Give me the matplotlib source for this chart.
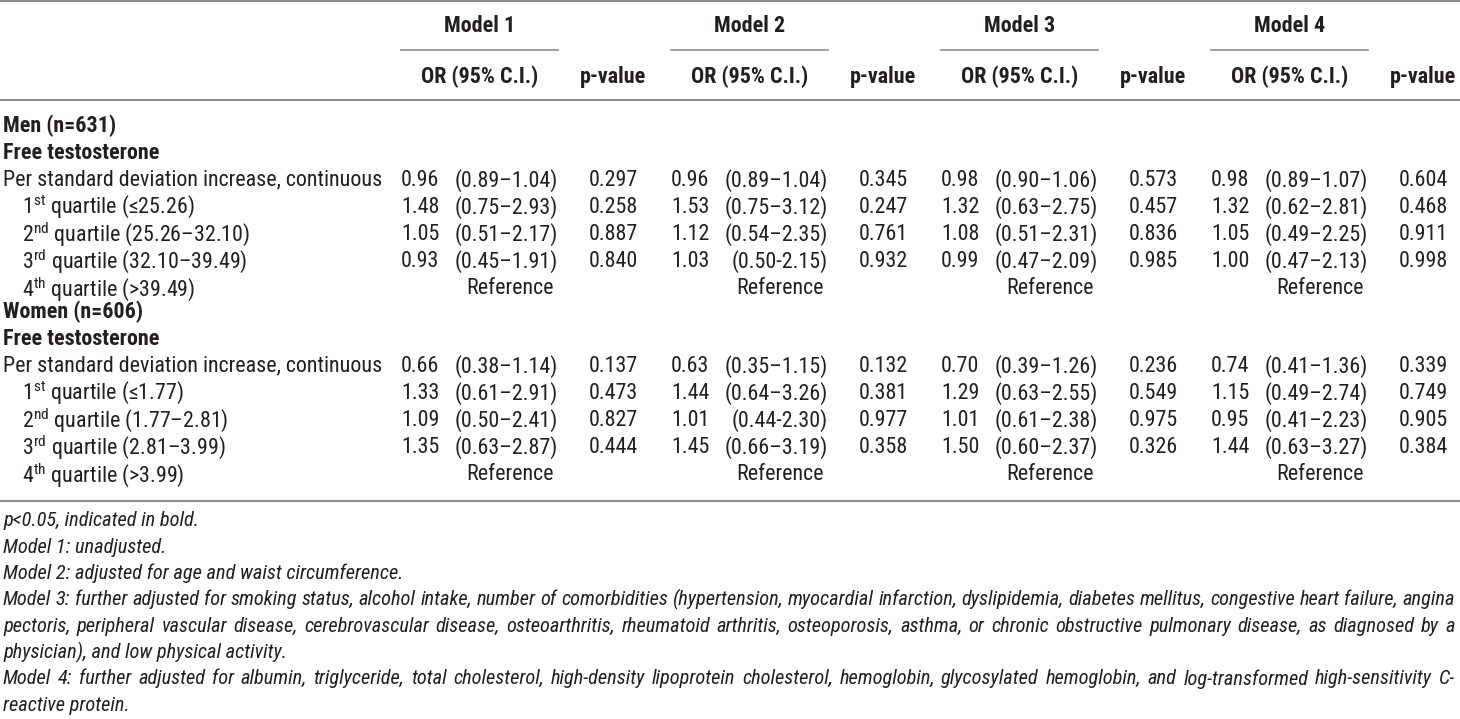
import matplotlib
matplotlib.use("Agg")
from matplotlib import pyplot as plt

FONT = ['Liberation Sans Narrow', 'Noto Sans Condensed', 'Roboto Condensed',
        'Open Sans Condensed', 'Liberation Sans', 'DejaVu Sans']
plt.rcParams['font.family'] = FONT
plt.rcParams['mathtext.fontset'] = 'custom'
plt.rcParams['mathtext.rm'] = 'Roboto Condensed'

models = ["Model 1", "Model 2", "Model 3", "Model 4"]

labels_men = ["Per standard deviation increase, continuous",
              "1$^{\\mathregular{st}}$ quartile (≤25.26)",
              "2$^{\\mathregular{nd}}$ quartile (25.26–32.10)",
              "3$^{\\mathregular{rd}}$ quartile (32.10–39.49)",
              "4$^{\\mathregular{th}}$ quartile (>39.49)"]
labels_women = ["Per standard deviation increase, continuous",
                "1$^{\\mathregular{st}}$ quartile (≤1.77)",
                "2$^{\\mathregular{nd}}$ quartile (1.77–2.81)",
                "3$^{\\mathregular{rd}}$ quartile (2.81–3.99)",
                "4$^{\\mathregular{th}}$ quartile (>3.99)"]

# men, one list per model
or_men = [["0.96", "1.48", "1.05", "0.93"],
          ["0.96", "1.53", "1.12", "1.03"],
          ["0.98", "1.32", "1.08", "0.99"],
          ["0.98", "1.32", "1.05", "1.00"]]
ci_men = [["(0.89–1.04)", "(0.75–2.93)", "(0.51–2.17)", "(0.45–1.91)"],
          ["(0.89–1.04)", "(0.75–3.12)", "(0.54–2.35)", "(0.50-2.15)"],
          ["(0.90–1.06)", "(0.63–2.75)", "(0.51–2.31)", "(0.47–2.09)"],
          ["(0.89–1.07)", "(0.62–2.81)", "(0.49–2.25)", "(0.47–2.13)"]]
p_men = [["0.297", "0.258", "0.887", "0.840"],
         ["0.345", "0.247", "0.761", "0.932"],
         ["0.573", "0.457", "0.836", "0.985"],
         ["0.604", "0.468", "0.911", "0.998"]]

# women
or_women = [["0.66", "1.33", "1.09", "1.35"],
            ["0.63", "1.44", "1.01", "1.45"],
            ["0.70", "1.29", "1.01", "1.50"],
            ["0.74", "1.15", "0.95", "1.44"]]
ci_women = [["(0.38–1.14)", "(0.61–2.91)", "(0.50–2.41)", "(0.63–2.87)"],
            ["(0.35–1.15)", "(0.64–3.26)", "(0.44-2.30)", "(0.66–3.19)"],
            ["(0.39–1.26)", "(0.63–2.55)", "(0.61–2.38)", "(0.60–2.37)"],
            ["(0.41–1.36)", "(0.49–2.74)", "(0.41–2.23)", "(0.63–3.27)"]]
p_women = [["0.137", "0.473", "0.827", "0.444"],
           ["0.132", "0.381", "0.977", "0.358"],
           ["0.236", "0.549", "0.975", "0.326"],
           ["0.339", "0.749", "0.905", "0.384"]]

footnotes = [
    "p<0.05, indicated in bold.",
    "Model 1: unadjusted.",
    "Model 2: adjusted for age and waist circumference.",
    "Model 3: further adjusted for smoking status, alcohol intake, number of comorbidities (hypertension, myocardial infarction, dyslipidemia, diabetes mellitus, congestive heart failure, angina",
    "pectoris, peripheral vascular disease, cerebrovascular disease, osteoarthritis, rheumatoid arthritis, osteoporosis, asthma, or chronic obstructive pulmonary disease, as diagnosed by a",
    "physician), and low physical activity.",
    "Model 4: further adjusted for albumin, triglyceride, total cholesterol, high-density lipoprotein cholesterol, hemoglobin, glycosylated hemoglobin, and log-transformed high-sensitivity C-",
    "reactive protein.",
]
justified = [3, 4, 6]  # wrapped lines that run to the right margin

TXT = '#231f20'
RULE = '#8c8c8c'

fig = plt.figure(figsize=(14.6, 7.19), dpi=100)
ax = fig.add_axes([0, 0, 1, 1])
ax.set_xlim(0, 1460)
ax.set_ylim(719, 0)
ax.axis('off')

# fit the font sizes to the widths seen in the reference
fig.canvas.draw()
r = fig.canvas.get_renderer()
probe = ax.text(0, 0, labels_men[0], fontsize=10)
fs = 10 * 378 / probe.get_window_extent(r).width
probe.remove()
probe = ax.text(0, 0, footnotes[3], fontsize=10, fontstyle='italic')
fs_note = 10 * 1450 / probe.get_window_extent(r).width
probe.remove()

col_step = 270
or_x = 401
ci_x = 558
p_x = 613
ref_x = 510

# header
for k, m in enumerate(models):
    x0 = or_x + k * col_step
    ax.text(x0 + 79, 26, m, ha='center', va='center',
            fontsize=fs, fontweight='bold', color=TXT)
    ax.plot([x0, x0 + 157], [50, 50], color=RULE, lw=1.2)
    ax.text(x0 + 79, 77, "OR (95% C.I.)", ha='center',
            va='center', fontsize=fs, fontweight='bold', color=TXT)
    ax.text(p_x + k * col_step, 77, "p-value", ha='center',
            va='center', fontsize=fs, fontweight='bold', color=TXT)

ax.plot([0, 1460], [1, 1], color=RULE, lw=1.5)
ax.plot([0, 1460], [100, 100], color=RULE, lw=1.5)
ax.plot([0, 1460], [501, 501], color=RULE, lw=1.5)

step = 27.1


def block(y0, title, labels, ors, cis, ps):
    ax.text(3, y0, title, va='center', fontsize=fs, fontweight='bold',
            color=TXT)
    ax.text(3, y0 + step, "Free testosterone", va='center', fontsize=fs,
            fontweight='bold', color=TXT)
    for i, lab in enumerate(labels):
        y = y0 + (i + 2) * step
        ax.text(3 if i == 0 else 22, y, lab, va='center', fontsize=fs,
                color=TXT)
        for k in range(4):
            if i < 4:
                ax.text(or_x + k * col_step, y, ors[k][i], va='center',
                        fontsize=fs, color=TXT)
                ax.text(ci_x + k * col_step, y, cis[k][i], ha='right',
                        va='center', fontsize=fs, color=TXT)
                ax.text(p_x + k * col_step, y, ps[k][i], ha='center',
                        va='center', fontsize=fs, color=TXT)
            else:
                ax.text(ref_x + k * col_step, y, "Reference", ha='center',
                        va='center', fontsize=fs, color=TXT)


block(126, "Men (n=631)", labels_men, or_men, ci_men, p_men)
block(312, "Women (n=606)", labels_women, or_women, ci_women, p_women)

# footnotes; the wrapped lines are justified to the right margin
y_note = 521
note_step = 26.3
for j, line in enumerate(footnotes):
    y = y_note + j * note_step
    if j not in justified:
        ax.text(3, y, line, va='center', fontsize=fs_note,
                fontstyle='italic', color=TXT)
        continue
    words = line.split(' ')
    arts = [ax.text(0, y, w, va='center', fontsize=fs_note,
                    fontstyle='italic', color=TXT)
            for w in words]
    widths = [a.get_window_extent(r).width for a in arts]
    gap = (1455 - 3 - sum(widths)) / (len(words) - 1)
    x = 3
    for a, wd in zip(arts, widths):
        a.set_x(x)
        x += wd + gap

fig.savefig('out.png', dpi=100)
